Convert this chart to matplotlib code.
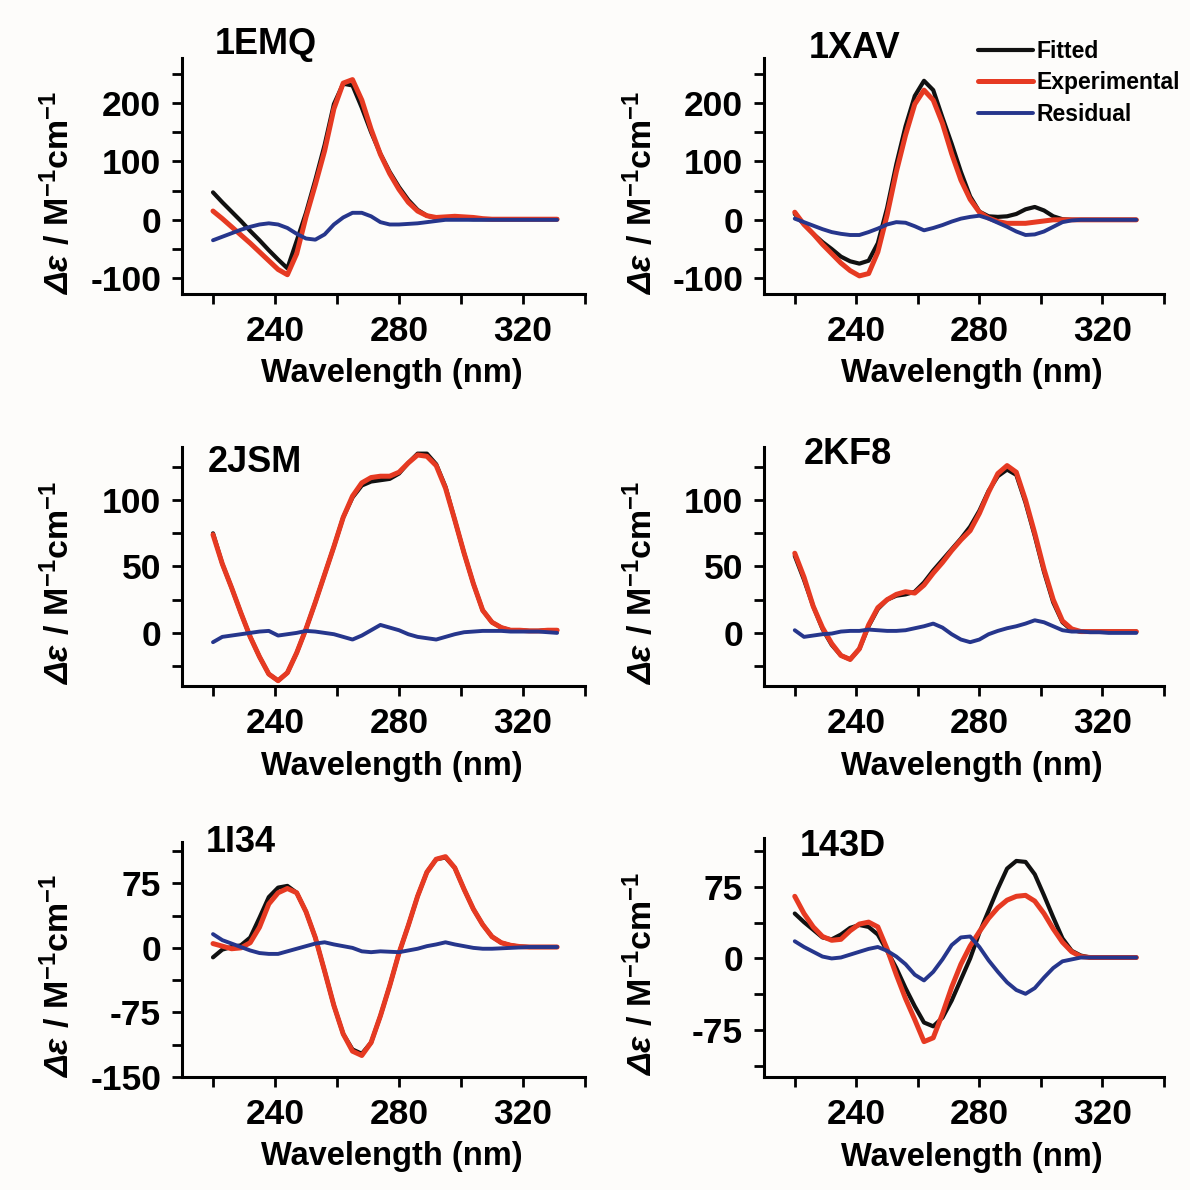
import matplotlib
matplotlib.use("Agg")
import matplotlib.pyplot as plt

# wavelength grid (nm), values every 3 nm
WL = list(range(220, 332, 3))

NAMES = ["1EMQ", "1XAV", "2JSM", "2KF8", "1I34", "143D"]
SERIES = ["Fitted", "Experimental", "Residual"]

FIT_1EMQ = [47, 30, 14, -2, -19, -35, -52, -68, -83, -36, 12, 68, 128, 198, 233, 230, 192, 150, 113,
            82, 56, 34, 17, 7, 3, 2, 2, 2, 1, 1, 1, 1, 1, 1, 1, 1, 1, 1]
EXP_1EMQ = [15, 2, -12, -26, -40, -55, -70, -85, -94, -58, 5, 60, 118, 190, 234, 240, 205, 155, 112,
            79, 52, 30, 15, 7, 4, 5, 6, 5, 4, 2, 1, 1, 1, 1, 1, 1, 1, 1]
RES_1EMQ = [-35, -29, -23, -17, -12, -8, -6, -8, -14, -24, -32, -34, -25, -8, 4, 12, 12, 6, -4,
            -8, -8, -7, -6, -4, -2, 0, 0, 0, 0, 0, 0, 0, 0, 0, 0, 0, 0, 0]

FIT_1XAV = [10, -8, -24, -38, -50, -63, -71, -75, -70, -40, 20, 95, 160, 212, 238, 222, 175, 130, 82,
            40, 14, 6, 5, 6, 10, 18, 22, 16, 6, 1, 0, 0, 0, 0, 0, 0, 0, 0]
EXP_1XAV = [13, -8, -24, -42, -58, -74, -87, -96, -92, -55, 8, 82, 145, 198, 222, 205, 165, 113, 68,
            35, 13, 3, -3, -6, -6, -6, -4, -2, 0, 0, 0, 0, 0, 0, 0, 0, 0, 0]
RES_1XAV = [2, -4, -10, -16, -21, -24, -26, -26, -21, -15, -8, -4, -5, -11, -18, -14, -9, -3, 2,
            5, 7, 2, -5, -12, -20, -26, -25, -20, -12, -4, -1, 0, 0, 0, 0, 0, 0, 0]

FIT_2JSM = [75, 52, 34, 15, -3, -18, -31, -36, -30, -15, 3, 23, 44, 65, 87, 102, 111, 114, 115,
            116, 120, 128, 135, 135, 127, 110, 85, 60, 37, 17, 8, 4, 2, 2, 1.5, 1.5, 2, 2]
EXP_2JSM = [74, 52, 34, 15, -3, -18, -31, -36, -30, -15, 3, 23, 44, 65, 87, 103, 113, 117, 118,
            118, 121, 128, 134, 133, 126, 109, 85, 60, 37, 17, 8, 4, 2, 2, 1.5, 1.5, 2, 2]
RES_2JSM = [-7, -3, -2, -1, 0, 1, 1.5, -2, -1, 0, 1.5, 1, 0, -1, -3, -5, -2, 2, 6,
            4, 2, -1, -3, -4, -5, -3, -1, 0.5, 1, 1.5, 1.5, 1.5, 1, 1, 1, 1, 0.5, 0]

FIT_2KF8 = [58, 40, 20, 3, -9, -17, -20, -12, 5, 18, 25, 28, 29, 31, 38, 47, 55, 63, 71,
            80, 92, 107, 118, 123, 119, 98, 73, 46, 23, 8, 2, 1, 1, 1, 1, 1, 1, 1]
EXP_2KF8 = [60, 42, 20, 4, -8, -17, -20, -12, 6, 19, 25, 29, 31, 30, 36, 45, 53, 62, 70,
            77, 90, 106, 120, 126, 121, 100, 75, 48, 25, 9, 3, 1, 1, 1, 1, 1, 1, 1]
RES_2KF8 = [2, -3, -2, -1, -0.5, 1, 1.5, 1.5, 2.5, 2, 1.5, 1.5, 2, 3.5, 5, 7, 4, -1, -5,
            -7, -5, -1, 1.5, 3.5, 5, 7, 9.5, 8, 5, 2, 1, 1, 0.5, 0.5, 0, 0, 0, 0]

FIT_1I34 = [-11, -2, 1, 3, 12, 35, 59, 70, 72, 64, 42, 12, -27, -67, -100, -118, -123, -110, -79,
            -44, -6, 26, 60, 88, 103, 105, 93, 68, 45, 27, 13, 6, 3, 1.5, 1, 1, 1, 1]
EXP_1I34 = [5, 2, -1, 0, 6, 24, 51, 64, 69, 64, 42, 12, -27, -67, -100, -120, -125, -110, -79,
            -44, -6, 26, 60, 88, 103, 106, 93, 68, 45, 27, 13, 6, 3, 1.5, 1, 1, 1, 1]
RES_1I34 = [16, 9, 5, 1, -3, -6, -7, -7, -4, -1, 2, 5, 6.5, 4, 2, 0, -4, -5, -4,
            -4.5, -5, -3, -1, 2, 4, 6.5, 4, 2, 0, -1, -1, -0.5, 0, 0.5, 1, 1, 1, 1]

FIT_143D = [47, 38, 30, 22, 20, 25, 32, 35, 33, 25, 8, -10, -31, -50, -67, -71, -62, -44, -22,
            0, 27, 50, 73, 94, 102, 101, 88, 66, 43, 21, 8, 3, 1, 1, 1, 1, 1, 1]
EXP_143D = [65, 47, 33, 23, 19, 20, 29, 36, 38, 33, 10, -17, -42, -64, -87, -83, -58, -30, -6,
            13, 28, 42, 53, 61, 65, 66, 60, 47, 31, 17, 7, 2, 1, 1, 1, 1, 1, 1]
RES_143D = [18, 12, 7, 2, 0, 1, 4, 7, 10, 12, 8, 2, -6, -17, -23, -14, -1, 14, 22,
            23, 12, -2, -14, -25, -33, -37, -31, -20, -10, -3, -1, 1, 1, 1, 1, 1, 1, 1]

DATA = {
    "1EMQ": (FIT_1EMQ, EXP_1EMQ, RES_1EMQ),
    "1XAV": (FIT_1XAV, EXP_1XAV, RES_1XAV),
    "2JSM": (FIT_2JSM, EXP_2JSM, RES_2JSM),
    "2KF8": (FIT_2KF8, EXP_2KF8, RES_2KF8),
    "1I34": (FIT_1I34, EXP_1I34, RES_1I34),
    "143D": (FIT_143D, EXP_143D, RES_143D),
}

# y axis settings: limits, labelled ticks, unlabelled ticks
YLIMS = [(-127, 277), (-127, 277), (-40, 140), (-40, 140), (-150, 123), (-124, 126)]
YMAJOR = [[-100, 0, 100, 200], [-100, 0, 100, 200], [0, 50, 100], [0, 50, 100],
          [-150, -75, 0, 75], [-75, 0, 75]]
YMINOR = [[-50, 50, 150, 250], [-50, 50, 150, 250], [-25, 25, 75, 125], [-25, 25, 75, 125],
          [-112.5, -37.5, 37.5, 112.5], [-112.5, -37.5, 37.5, 112.5]]

XMAJOR = [240, 280, 320]
XMINOR = [220, 260, 300, 340]

# axes boxes in pixels: left, top, right, bottom
BOXES = [(182, 58, 585, 294), (764, 58, 1164, 294),
         (182, 447, 585, 686), (764, 447, 1164, 686),
         (182, 842, 585, 1077), (764, 838, 1164, 1077)]
# panel name positions in pixels (left, vertical centre)
NAME_POS = [(215, 44), (809, 48), (208, 462), (804, 455), (206, 843), (800, 847)]

COLORS = ["#111111", "#e63a22", "#26368c"]
WIDTHS = [3.0, 3.6, 2.8]

SIZE = 1190


def setup_style():
    plt.rcParams["font.family"] = ["Liberation Sans", "DejaVu Sans"]
    plt.rcParams["font.weight"] = "bold"
    plt.rcParams["axes.unicode_minus"] = False
    plt.rcParams["mathtext.fontset"] = "custom"
    plt.rcParams["mathtext.rm"] = "Liberation Sans:bold"
    plt.rcParams["mathtext.sf"] = "Liberation Sans:bold:italic"
    plt.rcParams["mathtext.it"] = "Liberation Sans:bold:italic"
    plt.rcParams["mathtext.bf"] = "Liberation Sans:bold"


def draw_panel(fig, i):
    name = NAMES[i]
    left, top, right, bottom = BOXES[i]
    ax = fig.add_axes([left / SIZE, 1 - bottom / SIZE, (right - left) / SIZE, (bottom - top) / SIZE])
    ax.set_facecolor("none")

    lines = []
    for values, color, lw, label in zip(DATA[name], COLORS, WIDTHS, SERIES):
        line, = ax.plot(WL, values, color=color, lw=lw, label=label,
                        solid_capstyle="round", solid_joinstyle="round")
        lines.append(line)

    ax.set_xlim(210, 340)
    ax.set_ylim(*YLIMS[i])
    ax.set_xticks(XMAJOR)
    ax.set_xticks(XMINOR, minor=True)
    ax.set_yticks(YMAJOR[i])
    ax.set_yticks(YMINOR[i], minor=True)

    for side in ["top", "right"]:
        ax.spines[side].set_visible(False)
    for side in ["left", "bottom"]:
        ax.spines[side].set_linewidth(2.2)

    ax.tick_params(which="both", direction="out", length=7, width=2, labelsize=25.5, pad=8)

    ax.set_xlabel("Wavelength (nm)", fontsize=23.5, fontweight="bold")
    ax.xaxis.set_label_coords(0.52, -0.272)
    ax.set_ylabel(r"$\mathsf{\Delta\varepsilon}\ \mathrm{/\ M^{-1}cm^{-1}}$", fontsize=24.5)
    ax.yaxis.set_label_coords(-0.262, 0.43)

    nx, ny = NAME_POS[i]
    fig.text(nx / SIZE, 1 - ny / SIZE, name, fontsize=26, fontweight="bold",
             ha="left", va="center")
    return lines


def main():
    setup_style()
    fig = plt.figure(figsize=(SIZE / 100, SIZE / 100), dpi=100)
    fig.patch.set_facecolor("#fdfcfa")

    handles = None
    for i in range(len(NAMES)):
        lines = draw_panel(fig, i)
        if i == 1:
            handles = lines

    fig.legend(handles, SERIES, loc="upper left", bbox_to_anchor=(978 / SIZE, 1 - 40 / SIZE),
               frameon=False, fontsize=16.5, handlelength=2.4, handletextpad=0.15,
               labelspacing=0.37, borderpad=0, borderaxespad=0)

    fig.savefig("out.png", dpi=100, facecolor=fig.get_facecolor())
    plt.close(fig)


if __name__ == "__main__":
    main()
